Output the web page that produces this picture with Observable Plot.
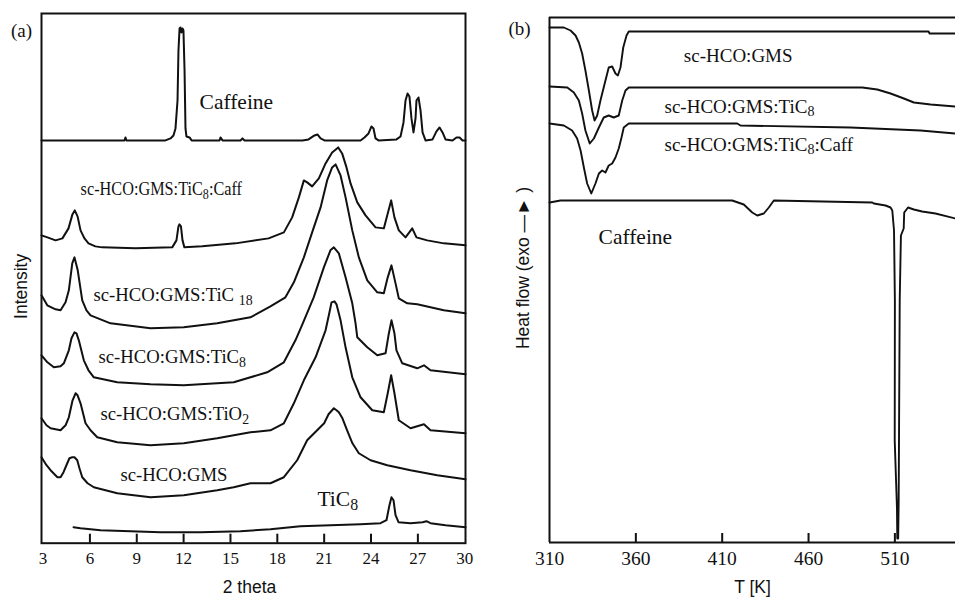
<!DOCTYPE html>
<html><head><meta charset="utf-8">
<script src="https://cdn.jsdelivr.net/npm/d3@7"></script>
<script src="https://cdn.jsdelivr.net/npm/@observablehq/plot@0.6"></script>
<style>
html,body{margin:0;padding:0;background:#fff;}
#wrap{position:relative;width:955px;height:598px;overflow:hidden;background:#fff;}
#wrap svg{position:absolute;top:0;}
</style></head><body><div id="wrap"></div>
<script>
// ===== Panel (a): XRD patterns — [2θ (deg), intensity (a.u., stacked)] =====
const xrdCaffeine = [[2.90,403],[8.21,403],[8.28,406],[8.34,403],[10.84,403],[11.16,405],[11.35,408],[11.48,415],[11.61,443],[11.67,493],[11.74,515],[11.80,516],[11.86,511],[11.93,515],[11.99,513],[12.06,473],[12.12,415],[12.18,407],[12.38,406],[12.51,403],[14.30,403],[14.36,406],[14.49,403],[15.64,403],[15.77,405],[15.90,403],[19.61,403],[20.00,404],[20.38,408],[20.57,409],[20.77,405],[21.02,403],[23.33,403],[23.58,406],[23.84,410],[24.03,417],[24.16,415],[24.29,405],[24.48,403],[25.63,404],[25.89,407],[26.08,421],[26.21,443],[26.34,450],[26.46,447],[26.59,425],[26.72,411],[26.85,425],[26.91,443],[27.04,446],[27.17,433],[27.30,411],[27.49,403],[27.94,404],[28.19,412],[28.39,416],[28.58,411],[28.77,404],[29.22,403],[29.47,406],[29.67,406],[29.86,403],[30.05,403]];
const xrdTiC8Caff = [[2.90,308],[3.28,306],[3.80,303],[4.24,305],[4.63,315],[4.88,329],[5.03,333],[5.21,327],[5.40,313],[5.65,305],[5.91,300],[6.35,297],[6.79,296],[8.92,295],[11.27,296],[11.54,303],[11.67,317],[11.73,319],[11.83,317],[11.93,303],[12.05,296],[13.19,297],[15.32,300],[17.44,305],[18.42,311],[18.95,326],[19.38,346],[19.70,363],[19.91,361],[20.23,357],[20.66,365],[21.09,380],[21.51,391],[21.90,396],[22.15,390],[22.43,376],[22.69,360],[23.12,341],[23.65,328],[24.29,316],[24.82,315],[25.07,330],[25.29,343],[25.50,326],[25.78,313],[26.21,306],[26.64,315],[26.91,306],[27.60,303],[28.66,300],[30.05,298]];
const xrdTiC18 = [[2.90,248],[3.27,238],[3.80,234],[4.12,233],[4.44,241],[4.65,253],[4.87,280],[5.01,286],[5.22,273],[5.51,243],[5.78,233],[6.04,228],[7.32,220],[9.88,215],[12.01,216],[14.15,220],[16.28,226],[17.56,237],[18.52,246],[19.06,261],[19.70,286],[20.23,311],[20.77,336],[21.19,363],[21.51,376],[21.73,379],[22.05,368],[22.37,346],[22.80,313],[23.22,286],[23.76,263],[24.40,251],[24.82,250],[25.07,266],[25.31,278],[25.57,260],[25.78,245],[26.32,240],[26.96,239],[28.66,233],[30.05,230]];
const xrdTiC8 = [[2.90,188],[3.28,181],[3.69,176],[4.12,177],[4.33,180],[4.65,193],[4.82,205],[5.01,211],[5.14,210],[5.29,203],[5.61,183],[5.91,173],[6.25,166],[7.75,161],[9.88,159],[12.01,158],[15.21,161],[17.35,171],[18.42,181],[19.16,203],[19.55,217],[20.33,246],[20.98,276],[21.40,293],[21.62,296],[21.94,290],[22.37,266],[22.80,240],[23.01,220],[23.12,206],[23.76,196],[24.40,188],[24.93,190],[25.12,208],[25.31,223],[25.50,210],[25.63,193],[26.00,180],[26.96,175],[27.39,178],[27.81,173],[30.05,169]];
const xrdTiO2 = [[2.90,125],[3.22,118],[3.48,115],[4.12,113],[4.44,118],[4.65,126],[4.89,143],[5.08,150],[5.21,148],[5.40,140],[5.72,120],[6.04,113],[6.47,106],[7.75,101],[9.88,98],[12.01,100],[14.15,105],[16.28,111],[17.56,113],[18.42,120],[19.06,140],[19.70,163],[20.45,186],[21.09,213],[21.34,231],[21.47,241],[21.66,242],[21.79,239],[22.05,223],[22.37,196],[22.80,166],[23.33,146],[24.08,133],[24.82,131],[25.07,150],[25.29,168],[25.50,150],[25.78,123],[26.53,115],[27.39,119],[27.81,113],[30.05,110]];
const xrdGMS = [[2.90,86],[3.22,78],[3.48,73],[3.92,66],[4.12,66],[4.31,71],[4.55,80],[4.69,85],[4.87,86],[5.01,86],[5.19,83],[5.33,75],[5.51,66],[5.85,60],[6.25,56],[7.75,50],[9.88,46],[12.01,48],[14.15,53],[15.21,56],[16.28,60],[17.56,60],[18.42,66],[19.27,83],[19.91,103],[21.00,120],[21.28,129],[21.62,135],[21.79,133],[21.94,131],[22.17,125],[22.47,113],[22.81,100],[23.22,90],[23.97,83],[25.04,78],[26.53,73],[28.24,68],[30.05,64]];
const xrdTiC8Pure = [[4.95,16],[5.40,15],[6.68,13],[8.60,12],[10.52,11],[13.08,11],[15.64,12],[17.56,14],[19.48,17],[21.41,18],[23.33,19],[24.61,20],[24.99,23],[25.18,38],[25.31,46],[25.44,43],[25.57,28],[25.76,21],[26.53,20],[27.30,21],[27.55,22],[27.81,20],[28.77,18],[30.05,16]];
const xTicksA = [3, 6, 9, 12, 15, 18, 21, 24, 27, 30];
// curve labels (a): text, 2θ of label start, intensity of label centre ("_n" = subscript)
const labelTextA = ["sc-HCO:GMS:TiC_8:Caff", "sc-HCO:GMS:TiC _18", "sc-HCO:GMS:TiC_8", "sc-HCO:GMS:TiO_2", "sc-HCO:GMS"];
const labelXA = [5.40, 6.23, 6.55, 6.68, 7.96];
const labelYA = [354, 248, 186, 129, 68];
const bigTextA = ["Caffeine", "TiC_8"];
const bigXA = [13.02, 20.57];
const bigYA = [441, 44];

// ===== Panel (b): DSC curves — [T (K), heat flow (a.u., stacked)] =====
const dscGMS = [[310.0,515],[318.3,515],[322.2,512],[325.1,507],[327.0,500],[328.9,489],[330.8,472],[332.8,452],[334.7,432],[336.1,422],[337.6,427],[339.5,442],[342.4,462],[344.3,475],[346.3,476],[348.2,469],[349.6,467],[351.1,475],[352.7,495],[354.6,507],[355.9,511],[529.5,511],[530.1,509],[545.1,509]];
const dscTiC8 = [[310.0,456],[320.3,455],[324.1,450],[327.0,442],[328.9,429],[330.8,412],[333.3,399],[335.7,404],[338.6,415],[341.4,425],[344.3,427],[347.2,425],[350.1,427],[352.1,442],[354.0,452],[355.9,455],[491.1,455],[499.8,453],[507.5,449],[515.2,444],[521.0,440],[530.7,438],[545.1,436]];
const dscTiC8Caff = [[310.0,419],[318.3,417],[323.1,412],[326.0,404],[328.0,392],[329.9,375],[331.8,359],[334.2,349],[336.6,359],[338.6,369],[340.5,372],[342.4,370],[344.3,377],[346.3,379],[348.2,385],[350.1,394],[351.7,405],[353.0,415],[355.9,419],[418.7,419],[420.6,417],[484.3,415],[524.9,412],[545.1,409]];
const dscCaffeine = [[310.0,340],[316.4,342],[415.8,342],[422.5,338],[427.4,330],[430.3,327],[434.1,329],[437.0,335],[439.9,342],[496.9,340],[497.8,339],[504.6,337],[507.5,335],[508.5,332],[509.5,312],[510.0,242],[509.9,102],[511.2,35],[511.4,4],[511.9,4],[512.2,42],[512.8,242],[513.5,307],[515.1,314],[515.4,330],[517.6,335],[521.0,333],[525.8,331],[533.5,329],[545.1,324]];
const xTicksB = [310, 360, 410, 460, 510];
const labelTextB = ["sc-HCO:GMS", "sc-HCO:GMS:TiC_8", "sc-HCO:GMS:TiC_8:Caff"];
const labelXB = [387.8, 376.6, 376.6];
const labelYB = [487, 436, 398];
const bigTextB = ["Caffeine"];
const bigXB = [338.4];
const bigYB = [305];

// ===== rendering =====
const ink = "#111";
const serif = "'Liberation Serif','Times New Roman',serif";
const sans = "'Liberation Sans',Arial,sans-serif";
const rows = (list) => list.flatMap(([name, pts]) => pts.map(([x, y]) => ({name, x, y})));
const lbls = (T, X, Y) => T.map((text, i) => ({text, x: X[i], y: Y[i]}));

const rowsA = rows([["Caffeine", xrdCaffeine], ["TiC8:Caff", xrdTiC8Caff], ["TiC18", xrdTiC18], ["TiC8", xrdTiC8], ["TiO2", xrdTiO2], ["GMS", xrdGMS], ["TiC8 pure", xrdTiC8Pure]]);
const rowsB = rows([["GMS", dscGMS], ["TiC8", dscTiC8], ["TiC8:Caff", dscTiC8Caff], ["Caffeine", dscCaffeine]]);

const tickLen = 9; // inward tick length, in y units (≈ px here)

const aW = 480, aH = 598, aMT = 13, aMB = 55.3, aML = 41, aMR = 15;
const plotA = Plot.plot({
  width: aW, height: aH, marginTop: aMT, marginBottom: aMB, marginLeft: aML, marginRight: aMR,
  x: {domain: [2.9, 30.05], label: null},
  y: {domain: [0, 530], axis: null},
  style: {background: "transparent", fontFamily: serif, color: ink, overflow: "visible"},
  marks: [
    Plot.line(rowsA, {x: "x", y: "y", z: "name", stroke: ink, strokeWidth: 2}),
    Plot.frame({stroke: ink, strokeWidth: 2}),
    Plot.ruleX(xTicksA.slice(1, -1), {x: d => d, y1: 0, y2: tickLen, stroke: ink, strokeWidth: 2}),
    Plot.axisX(xTicksA, {tickSize: 0, tickPadding: 9, fontSize: 17, fontFamily: serif, fill: ink, label: null}),
    Plot.text(lbls(labelTextA, labelXA, labelYA), {x: "x", y: "y", text: "text", textAnchor: "start", fontSize: 18.7, fontFamily: serif, fill: ink}),
    Plot.text(lbls(bigTextA, bigXA, bigYA), {x: "x", y: "y", text: "text", textAnchor: "start", fontSize: 21.5, fontFamily: serif, fill: ink}),
    Plot.text(["(a)"], {text: d => d, frameAnchor: "top-left", textAnchor: "middle", lineAnchor: "middle", dx: -20, dy: 17, fontSize: 19, fontFamily: serif, fill: ink}),
    Plot.text(["Intensity"], {text: d => d, frameAnchor: "left", textAnchor: "middle", lineAnchor: "middle", rotate: -90, dx: -20, dy: 8, fontSize: 17.5, fontFamily: sans, fill: ink}),
    Plot.text(["2 theta"], {text: d => d, frameAnchor: "bottom", textAnchor: "middle", lineAnchor: "middle", dx: -4, dy: 44, fontSize: 17.5, fontFamily: sans, fill: ink})
  ]
});

const bLeft = 480, bW = 475, bH = 598, bMT = 17, bMB = 56, bML = 69, bMR = 0;
const plotB = Plot.plot({
  width: bW, height: bH, marginTop: bMT, marginBottom: bMB, marginLeft: bML, marginRight: bMR,
  x: {domain: [310, 545.1], label: null},
  y: {domain: [0, 525], axis: null},
  style: {background: "transparent", fontFamily: serif, color: ink, overflow: "visible"},
  marks: [
    Plot.line(rowsB, {x: "x", y: "y", z: "name", stroke: ink, strokeWidth: 1.9}),
    Plot.ruleX([310], {stroke: ink, strokeWidth: 2}),
    Plot.ruleY([0, 525], {stroke: ink, strokeWidth: 2}),
    Plot.ruleX(xTicksB.slice(1), {x: d => d, y1: 0, y2: tickLen, stroke: ink, strokeWidth: 2}),
    Plot.axisX(xTicksB, {tickSize: 0, tickPadding: 9, fontSize: 19.5, fontFamily: serif, fill: ink, label: null}),
    Plot.text(lbls(labelTextB, labelXB, labelYB), {x: "x", y: "y", text: "text", textAnchor: "start", fontSize: 19, fontFamily: serif, fill: ink}),
    Plot.text(lbls(bigTextB, bigXB, bigYB), {x: "x", y: "y", text: "text", textAnchor: "start", fontSize: 21.5, fontFamily: serif, fill: ink}),
    Plot.text(["(b)"], {text: d => d, frameAnchor: "top-left", textAnchor: "middle", lineAnchor: "middle", dx: -30, dy: 11, fontSize: 19, fontFamily: serif, fill: ink}),
    Plot.text(["Heat flow (exo \u2014\u25BA )"], {text: d => d, frameAnchor: "left", textAnchor: "middle", lineAnchor: "middle", rotate: -90, dx: -26, dy: -12, fontSize: 17.5, fontFamily: sans, fill: ink}),
    Plot.text(["T [K]"], {text: d => d, frameAnchor: "bottom", textAnchor: "middle", lineAnchor: "middle", dx: 0, dy: 45, fontSize: 17.5, fontFamily: sans, fill: ink})
  ]
});

const wrap = document.getElementById("wrap");
plotA.style.left = "0px";
plotB.style.left = bLeft + "px";
wrap.appendChild(plotA);
wrap.appendChild(plotB);

// turn "_n" markers into real subscript tspans
function subscripts(svg) {
  svg.querySelectorAll("text").forEach(t => {
    const s = t.textContent;
    if (!s.includes("_")) return;
    const fs = parseFloat(getComputedStyle(t).fontSize) || 19;
    const parts = s.split(/_(\d+)/);
    t.textContent = "";
    let shifted = false;
    parts.forEach((p, i) => {
      if (p === "") return;
      const ts = document.createElementNS("http://www.w3.org/2000/svg", "tspan");
      ts.textContent = p;
      if (i % 2 === 1) {
        ts.setAttribute("font-size", (fs * 0.74).toFixed(2));
        ts.setAttribute("dy", (fs * 0.2).toFixed(2));
        shifted = true;
      } else if (shifted) {
        ts.setAttribute("dy", (-fs * 0.2).toFixed(2));
        shifted = false;
      }
      t.appendChild(ts);
    });
  });
}
subscripts(plotA);
subscripts(plotB);

// the caffeine-loaded label in panel (a) is set horizontally condensed in the original
plotA.querySelectorAll("text").forEach(t => {
  if (t.textContent !== "sc-HCO:GMS:TiC8:Caff") return;
  const svgBox = plotA.getBoundingClientRect();
  const box = t.getBoundingClientRect();
  const ax = box.left - svgBox.left;
  const s = 162 / box.width;
  const g = document.createElementNS("http://www.w3.org/2000/svg", "g");
  g.setAttribute("transform", `translate(${ax},0) scale(${s.toFixed(4)},1) translate(${-ax},0)`);
  t.parentNode.insertBefore(g, t);
  g.appendChild(t);
});
</script></body></html>
